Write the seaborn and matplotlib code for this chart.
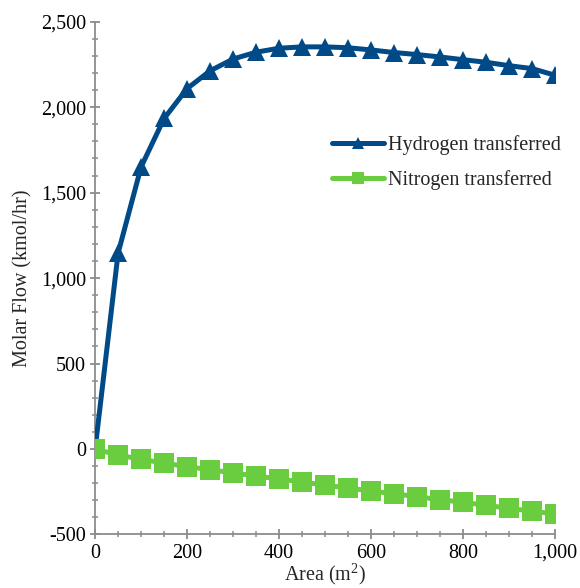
import numpy as np
import pandas as pd
import matplotlib
matplotlib.use("Agg")
import matplotlib.pyplot as plt
import seaborn as sns
from matplotlib.ticker import MultipleLocator, FuncFormatter
from matplotlib.lines import Line2D

area = [0, 50, 100, 150, 200, 250, 300, 350, 400, 450, 500,
        550, 600, 650, 700, 750, 800, 850, 900, 950, 1000]
hydrogen = [0, 1147, 1651, 1934, 2109, 2213, 2282, 2322, 2345, 2353, 2353,
            2348, 2335, 2320, 2308, 2294, 2278, 2263, 2243, 2226, 2187]
nitrogen = [0, -35, -60, -82, -103, -121, -140, -158, -175, -193, -211,
            -228, -246, -261, -279, -296, -312, -329, -347, -363, -380]
series_names = ["Hydrogen transferred", "Nitrogen transferred"]

df = pd.DataFrame({
    "Area": area * 2,
    "Flow": hydrogen + nitrogen,
    "Series": [series_names[0]] * len(area) + [series_names[1]] * len(area),
})

sns.set_style("white")
plt.rcParams["font.family"] = ["Liberation Serif", "DejaVu Serif"]
plt.rcParams["mathtext.fontset"] = "custom"
plt.rcParams["mathtext.rm"] = "Liberation Serif"

fig = plt.figure(figsize=(5.8, 5.88), dpi=100)
ax = fig.add_axes([0.164, 0.091, 0.793, 0.872])

colors = {series_names[0]: "#004B87", series_names[1]: "#6ACD3F"}
markers = {series_names[0]: "^", series_names[1]: "s"}
msize = {series_names[0]: 13.5, series_names[1]: 14}

for name in series_names:
    sns.lineplot(data=df[df["Series"] == name], x="Area", y="Flow",
                 color=colors[name], marker=markers[name],
                 markersize=msize[name], markeredgewidth=0, linewidth=3.6,
                 ax=ax, legend=False,
                 zorder=3 if name == series_names[0] else 4)

ax.set_xlim(0, 1000)
ax.set_ylim(-500, 2500)
ax.xaxis.set_major_locator(MultipleLocator(200))
ax.xaxis.set_minor_locator(MultipleLocator(50))
ax.yaxis.set_major_locator(MultipleLocator(500))
ax.yaxis.set_minor_locator(MultipleLocator(100))
fmt = FuncFormatter(lambda v, p: f"{int(round(v)):,}")
ax.xaxis.set_major_formatter(fmt)
ax.yaxis.set_major_formatter(fmt)

for s in ["top", "right"]:
    ax.spines[s].set_visible(False)
for s in ["left", "bottom"]:
    ax.spines[s].set_color("#8C8C8C")
    ax.spines[s].set_linewidth(1.3)

ax.tick_params(axis="both", which="major", direction="inout", length=7,
               width=1.3, color="#8C8C8C", labelsize=14.5, labelcolor="black",
               pad=3, left=True, bottom=True)
ax.tick_params(axis="both", which="minor", direction="inout", length=5,
               width=1.1, color="#8C8C8C", left=True, bottom=True)

ax.set_xlabel("Area (m$^{2}$)", fontsize=14.5, labelpad=-1)
ax.set_ylabel("Molar Flow (kmol/hr)", fontsize=14.5, labelpad=6)

handles = [Line2D([], [], color=colors[n], marker=markers[n], markersize=9,
                  markeredgewidth=0, linewidth=3.6) for n in series_names]
ax.legend(handles, series_names, loc="center left",
          bbox_to_anchor=(0.515, 0.726), frameon=False, fontsize=14.5,
          handlelength=2.6, handletextpad=0.2, labelspacing=0.75,
          borderpad=0, borderaxespad=0, numpoints=1)

fig.savefig("out.png", dpi=100, facecolor="white")
